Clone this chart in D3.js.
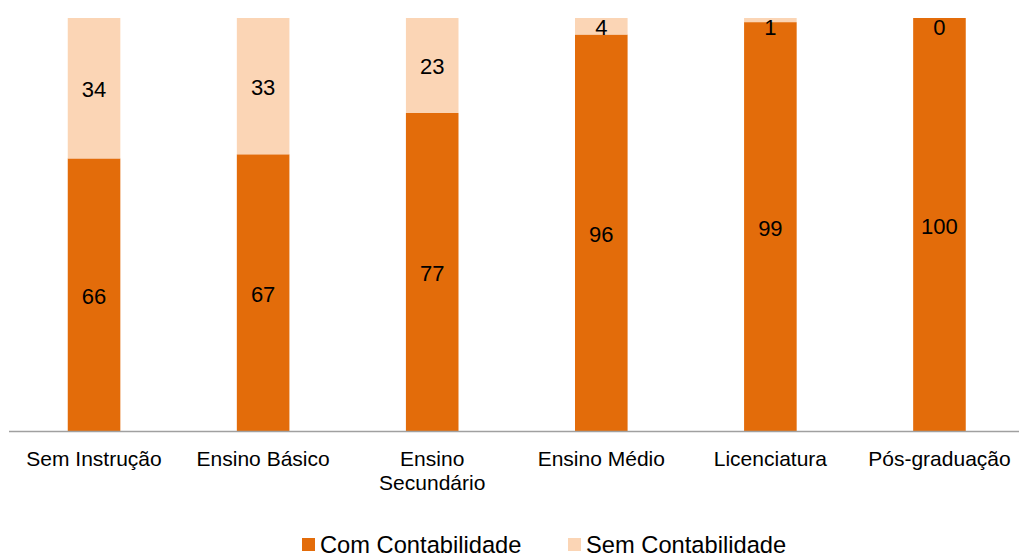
<!DOCTYPE html>
<html><head><meta charset="utf-8">
<script src="https://cdn.jsdelivr.net/npm/d3@7"></script>
<style>body{margin:0;background:#fff}svg{display:block}text{font-family:"Liberation Sans",Arial,sans-serif;fill:#000}</style>
</head><body><svg id="c" width="1019" height="556"></svg>
<script>
const categories = [["Sem Instrução"],["Ensino Básico"],["Ensino","Secundário"],["Ensino Médio"],["Licenciatura"],["Pós-graduação"]];
const comContabilidade = [66,67,77,96,99,100];
const semContabilidade = [34,33,23,4,1,0];
const seriesNames = ["Com Contabilidade","Sem Contabilidade"];
const colors = ["#E36C0A","#FBD5B5"];

const svg = d3.select("#c");
const plotTop = 18, plotBottom = 431;
const x = d3.scaleBand().domain(d3.range(categories.length)).range([9.5,1024]).paddingInner(0.689).paddingOuter(0.3445);
const y = d3.scaleLinear().domain([0,100]).range([plotBottom, plotTop]);

const rows = categories.map((c,i)=>({i, a:comContabilidade[i], b:semContabilidade[i]}));
const stack = d3.stack().keys(["a","b"])(rows);

stack.forEach((layer,k)=>{
  svg.append("g").selectAll("rect").data(layer).join("rect")
    .attr("x",d=>x(d.data.i)).attr("width",x.bandwidth())
    .attr("y",d=>y(d[1])).attr("height",d=>y(d[0])-y(d[1]))
    .attr("fill",colors[k]);
});
stack.forEach((layer,k)=>{
  svg.append("g").selectAll("text").data(layer).join("text")
    .attr("x",d=>x(d.data.i)+x.bandwidth()/2)
    .attr("y",d=>Math.max((y(d[0])+y(d[1]))/2, plotTop+8)+1.5)
    .attr("text-anchor","middle").attr("dominant-baseline","central")
    .style("font-size","22px")
    .text(d=>d[1]-d[0]);
});

svg.append("line").attr("x1",9).attr("x2",1019).attr("y1",431.5).attr("y2",431.5)
  .attr("stroke","#A0A0A0").attr("stroke-width",1.5);

const lab = svg.append("g").selectAll("text").data(categories).join("text")
  .attr("text-anchor","middle").style("font-size","21px")
  .attr("transform",(d,i)=>`translate(${x(i)+x.bandwidth()/2},466)`);
lab.selectAll("tspan").data(d=>d).join("tspan")
  .attr("x",0).attr("y",(d,j)=>j*24).text(d=>d);

const legX = [302,568];
const leg = svg.append("g").selectAll("g").data(seriesNames).join("g")
  .attr("transform",(d,i)=>`translate(${legX[i]},538)`);
leg.append("rect").attr("width",13).attr("height",13).attr("fill",(d,i)=>colors[i]);
leg.append("text").attr("x",18).attr("y",14.5).style("font-size","23.7px").text(d=>d);
</script></body></html>
